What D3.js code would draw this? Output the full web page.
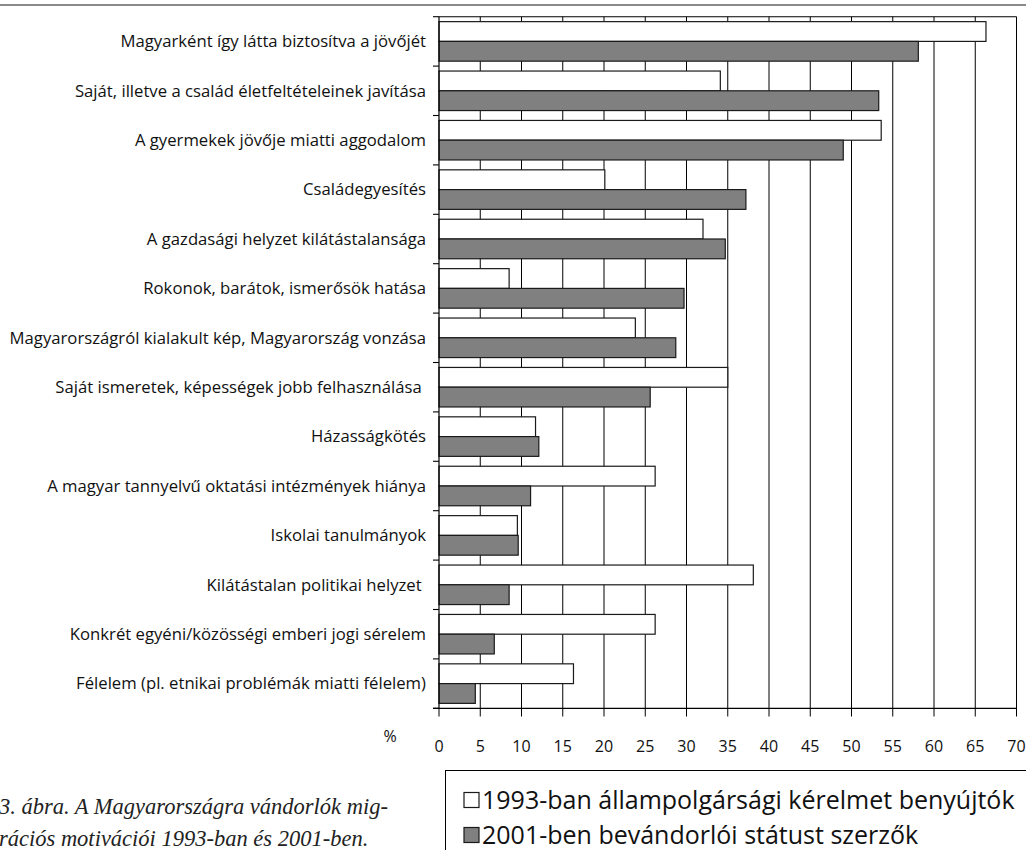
<!DOCTYPE html>
<html>
<head>
<meta charset="utf-8">
<script src="https://cdn.jsdelivr.net/npm/d3@7"></script>
<style>
  html, body { margin: 0; padding: 0; background: #fff; }
  svg { display: block; }
</style>
</head>
<body>
<svg id="chart" width="1026" height="850"></svg>
<script>
const categories = [
  "Magyarként így látta biztosítva a jövőjét",
  "Saját, illetve a család életfeltételeinek javítása",
  "A gyermekek jövője miatti aggodalom",
  "Családegyesítés",
  "A gazdasági helyzet kilátástalansága",
  "Rokonok, barátok, ismerősök hatása",
  "Magyarországról kialakult kép, Magyarország vonzása",
  "Saját ismeretek, képességek jobb felhasználása ",
  "Házasságkötés",
  "A magyar tannyelvű oktatási intézmények hiánya",
  "Iskolai tanulmányok",
  "Kilátástalan politikai helyzet ",
  "Konkrét egyéni/közösségi emberi jogi sérelem",
  "Félelem (pl. etnikai problémák miatti félelem)"
];
const values1993 = [66.3, 34.1, 53.6, 20.1, 32.0, 8.5, 23.8, 35.0, 11.7, 26.2, 9.5, 38.1, 26.2, 16.3];
const values2001 = [58.1, 53.3, 49.0, 37.2, 34.7, 29.7, 28.7, 25.6, 12.1, 11.1, 9.6, 8.5, 6.7, 4.4];
const seriesNames = ["1993-ban állampolgársági kérelmet benyújtók", "2001-ben bevándorlói státust szerzők"];
const xTicks = [0, 5, 10, 15, 20, 25, 30, 35, 40, 45, 50, 55, 60, 65, 70];
const axisUnit = "%";
const captionLines = ["3. ábra. A Magyarországra vándorlók mig-", "rációs motivációi 1993-ban és 2001-ben."];

const svg = d3.select("#chart");
const sans = "'Open Sans', 'Noto Sans', sans-serif";

// page header rule
svg.append("line").attr("x1", 0).attr("x2", 1026).attr("y1", 5).attr("y2", 5)
  .attr("stroke", "#8a8a8a").attr("stroke-width", 2);

const x = d3.scaleLinear().domain([0, 70]).range([439, 1016.5]);
const y = d3.scaleBand().domain(categories).range([16.7, 708.3]).padding(0);
const step = y.step();

// gridlines (extend below axis as tick marks)
svg.append("g").selectAll("line").data(xTicks.filter(d => d > 0)).join("line")
  .attr("x1", d => x(d)).attr("x2", d => x(d))
  .attr("y1", 16.7).attr("y2", 716.5)
  .attr("stroke", "#000").attr("stroke-width", 1);
// top border
svg.append("line").attr("x1", x(0)).attr("x2", x(70)).attr("y1", 16.7).attr("y2", 16.7)
  .attr("stroke", "#000").attr("stroke-width", 1.1);

// bars
const gBars = svg.append("g");
categories.forEach((c, i) => {
  const y0 = y(c) + step * 0.1;
  const h = step * 0.4;
  gBars.append("rect").attr("x", x(0)).attr("y", y0)
    .attr("width", x(values1993[i]) - x(0)).attr("height", h)
    .attr("fill", "#fff").attr("stroke", "#1a1a1a").attr("stroke-width", 1.2);
  gBars.append("rect").attr("x", x(0)).attr("y", y0 + h)
    .attr("width", x(values2001[i]) - x(0)).attr("height", h)
    .attr("fill", "#808080").attr("stroke", "#1a1a1a").attr("stroke-width", 1.2);
});

// left axis
svg.append("line").attr("x1", x(0)).attr("x2", x(0)).attr("y1", 16.7).attr("y2", 708.3)
  .attr("stroke", "#000").attr("stroke-width", 1.2);
const bounds = categories.map(c => y(c)).concat([708.3]);
svg.append("g").selectAll("line").data(bounds).join("line")
  .attr("x1", x(0) - 6).attr("x2", x(0)).attr("y1", d => d).attr("y2", d => d)
  .attr("stroke", "#000").attr("stroke-width", 1.1);
// bottom axis
svg.append("line").attr("x1", x(0) - 6).attr("x2", x(70)).attr("y1", 708.3).attr("y2", 708.3)
  .attr("stroke", "#000").attr("stroke-width", 1.2);
svg.append("line").attr("x1", x(0)).attr("x2", x(0)).attr("y1", 708.3).attr("y2", 716.5)
  .attr("stroke", "#000").attr("stroke-width", 1);

// category labels
svg.append("g").selectAll("text").data(categories).join("text")
  .attr("x", 426).attr("y", d => y(d) + step / 2)
  .attr("dy", "0.35em").attr("text-anchor", "end")
  .attr("font-family", sans).attr("font-size", 16.7).attr("fill", "#111")
  .style("white-space", "pre")
  .text(d => d);

// tick labels
svg.append("g").selectAll("text").data(xTicks).join("text")
  .attr("x", d => x(d)).attr("y", 746).attr("dy", "0.35em")
  .attr("text-anchor", "middle")
  .attr("font-family", sans).attr("font-size", 16).attr("fill", "#111")
  .text(d => d);
svg.append("text").attr("x", 390).attr("y", 736).attr("dy", "0.35em")
  .attr("text-anchor", "middle").attr("font-family", sans).attr("font-size", 16)
  .attr("fill", "#111").text(axisUnit);

// legend
svg.append("rect").attr("x", 445.5).attr("y", 770.5).attr("width", 600).attr("height", 100)
  .attr("fill", "#fff").attr("stroke", "#000").attr("stroke-width", 1);
const legendFills = ["#fff", "#808080"];
seriesNames.forEach((name, i) => {
  const cy = 800 + i * 35;
  svg.append("rect").attr("x", 464).attr("y", cy - 7.5).attr("width", 15).attr("height", 15)
    .attr("fill", legendFills[i]).attr("stroke", "#1a1a1a").attr("stroke-width", 1.2);
  svg.append("text").attr("x", 482).attr("y", cy).attr("dy", "0.35em")
    .attr("font-family", sans).attr("font-size", 25).attr("fill", "#111").text(name);
});

// caption
captionLines.forEach((t, i) => {
  svg.append("text").attr("x", -1).attr("y", 814 + i * 32)
    .attr("font-family", "'Liberation Serif', serif").attr("font-style", "italic")
    .attr("font-size", 22.5).attr("fill", "#222").text(t);
});
</script>
</body>
</html>
